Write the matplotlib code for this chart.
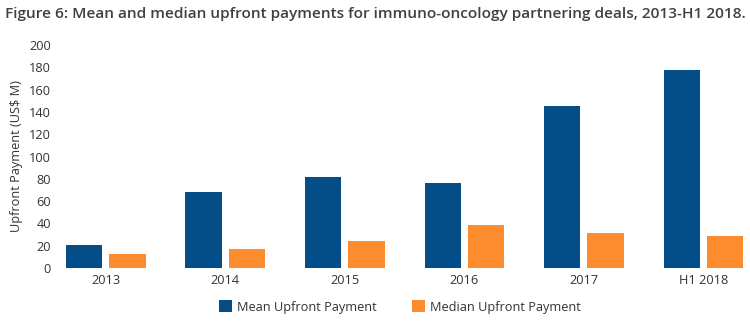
#!/usr/bin/env python3
"""Mean and median upfront payments for immuno-oncology partnering deals."""
import numpy as np
import matplotlib
matplotlib.use("Agg")
import matplotlib.pyplot as plt

categories = ["2013", "2014", "2015", "2016", "2017", "H1 2018"]
mean_upfront = [21, 68, 82, 76, 145, 178]
median_upfront = [13, 17, 24, 39, 31, 29]
yticks = [0, 20, 40, 60, 80, 100, 120, 140, 160, 180, 200]

BLUE = "#034e88"
ORANGE = "#fd8c2f"
TEXT = "#333333"

plt.rcParams["font.family"] = ["Open Sans", "DejaVu Sans"]

fig = plt.figure(figsize=(7.5, 3.26), dpi=100)
ax = fig.add_axes([58 / 750, 1 - 268 / 326, (750 - 58) / 750, (268 - 45) / 326])

x = np.arange(len(categories))
w = 0.304
off = 0.181
ax.bar(x - off, mean_upfront, width=w, color=BLUE, label="Mean Upfront Payment")
ax.bar(x + off, median_upfront, width=w, color=ORANGE, label="Median Upfront Payment")

ax.set_xlim((58 - 105.7) / 119.56, (750 - 105.7) / 119.56)
ax.set_ylim(0, 200)
ax.set_yticks(yticks)
ax.set_xticks(x)
ax.set_xticklabels(categories)
ax.tick_params(length=0, labelsize=9.2, labelcolor=TEXT)
ax.tick_params(axis="x", pad=4)
ax.tick_params(axis="y", pad=5)
for s in ax.spines.values():
    s.set_visible(False)
ax.set_ylabel("Upfront Payment (US$ M)", fontsize=9.2, color=TEXT)
ax.yaxis.set_label_coords(-(58 - 23) / 692, 0.5)

fig.text(5 / 750, 1 - 14 / 326, "Figure 6: Mean and median upfront payments for immuno-oncology partnering deals, 2013-H1 2018.",
         fontsize=11.1, fontweight="semibold", color="#404040", va="center", ha="left")

fig.legend(loc="center", bbox_to_anchor=(400 / 750, 1 - 307 / 326), ncol=2, frameon=False,
           fontsize=9.2, handlelength=1.0, handleheight=1.0, handletextpad=0.4,
           columnspacing=2.8, labelcolor=TEXT)

fig.savefig("out.png", dpi=100)
